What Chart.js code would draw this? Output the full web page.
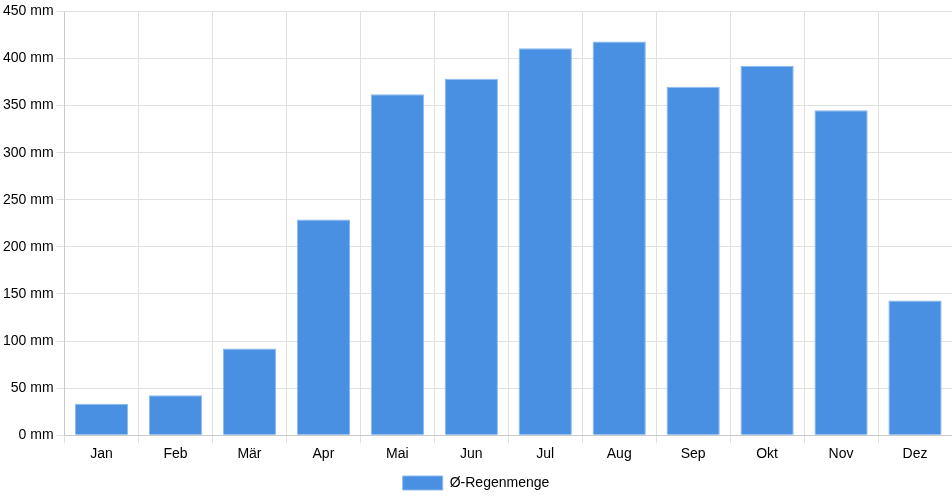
<!DOCTYPE html>
<html>
<head>
<meta charset="utf-8">
<script src="https://cdn.jsdelivr.net/npm/chart.js@4"></script>
<style>
  html, body { margin: 0; padding: 0; background: #fff; }
  #wrap { width: 952px; height: 500px; position: relative; }
</style>
</head>
<body>
<div id="wrap"><canvas id="myChart"></canvas></div>
<script>
// Monatsnamen
var months = ["Jan", "Feb", "Mär", "Apr", "Mai", "Jun", "Jul", "Aug", "Sep", "Okt", "Nov", "Dez"];
// Regenmenge in mm
var rain = [33.5, 42.5, 92, 229, 362, 378.5, 411, 418, 370, 392, 345, 143];
var seriesLabel = "Ø-Regenmenge";

Chart.defaults.font.family = "'Liberation Sans', Arial, sans-serif";
Chart.defaults.font.size = 14;
Chart.defaults.color = "#000";

var ctx = document.getElementById("myChart").getContext("2d");
var chart = new Chart(ctx, {
    type: "bar",
    data: {
        labels: months,
        datasets: [
            {
                label: seriesLabel,
                data: rain,
                backgroundColor: "rgba(74, 144, 226, 1)",
                borderColor: "rgba(140, 185, 240, 1)",
                borderWidth: 1
            }
        ]
    },
    options: {
        responsive: true,
        maintainAspectRatio: false,
        animation: false,
        layout: { padding: { top: 5 } },
        plugins: {
            legend: {
                position: "bottom",
                labels: { boxWidth: 40, boxHeight: 14, padding: 10 }
            },
            tooltip: { enabled: false }
        },
        scales: {
            x: {
                grid: { color: "#e0e0e0" },
                ticks: { padding: 3 }
            },
            y: {
                min: 0,
                max: 450,
                grid: { color: "#e0e0e0" },
                ticks: {
                    stepSize: 50,
                    callback: function (v) { return v + " mm"; }
                }
            }
        }
    }
});
</script>
</body>
</html>
